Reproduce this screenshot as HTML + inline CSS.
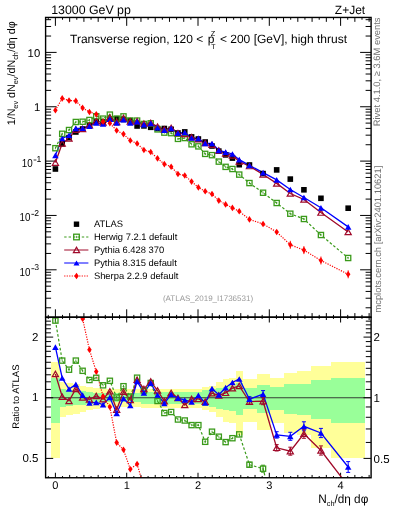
<!DOCTYPE html>
<html><head><meta charset="utf-8"><style>html,body{margin:0;padding:0;background:#fff;width:393px;height:512px;overflow:hidden}svg{display:block;will-change:transform}</style></head>
<body><svg width="393" height="512" viewBox="0 0 393 512" text-rendering="geometricPrecision"><defs><clipPath id="cr"><rect x="45.6" y="317.2" width="325.5" height="160.55"/></clipPath><clipPath id="cm"><rect x="45.6" y="17.45" width="325.5" height="299.75"/></clipPath></defs>
<g clip-path="url(#cr)" shape-rendering="crispEdges">
<rect x="51.10" y="362.27" width="8.50" height="96.13" fill="#ffff99"/>
<rect x="59.60" y="381.80" width="6.31" height="35.48" fill="#ffff99"/>
<rect x="65.91" y="383.27" width="6.81" height="31.85" fill="#ffff99"/>
<rect x="72.72" y="384.01" width="6.81" height="30.04" fill="#ffff99"/>
<rect x="79.53" y="385.52" width="6.81" height="26.45" fill="#ffff99"/>
<rect x="86.34" y="386.67" width="6.81" height="23.77" fill="#ffff99"/>
<rect x="93.15" y="387.83" width="6.81" height="21.10" fill="#ffff99"/>
<rect x="99.96" y="389.41" width="6.81" height="17.56" fill="#ffff99"/>
<rect x="106.76" y="389.41" width="6.81" height="17.56" fill="#ffff99"/>
<rect x="113.57" y="389.41" width="6.81" height="17.56" fill="#ffff99"/>
<rect x="120.38" y="389.41" width="6.81" height="17.56" fill="#ffff99"/>
<rect x="127.19" y="389.41" width="6.81" height="17.56" fill="#ffff99"/>
<rect x="134.00" y="389.41" width="6.81" height="17.56" fill="#ffff99"/>
<rect x="140.81" y="388.62" width="6.81" height="19.33" fill="#ffff99"/>
<rect x="147.62" y="388.62" width="6.81" height="19.33" fill="#ffff99"/>
<rect x="154.43" y="388.62" width="6.81" height="19.33" fill="#ffff99"/>
<rect x="161.23" y="388.62" width="6.81" height="19.33" fill="#ffff99"/>
<rect x="168.04" y="388.62" width="6.81" height="19.33" fill="#ffff99"/>
<rect x="174.85" y="388.62" width="6.81" height="19.33" fill="#ffff99"/>
<rect x="181.66" y="388.62" width="6.81" height="19.33" fill="#ffff99"/>
<rect x="188.47" y="388.62" width="6.81" height="19.33" fill="#ffff99"/>
<rect x="195.28" y="388.62" width="6.81" height="19.33" fill="#ffff99"/>
<rect x="202.09" y="387.06" width="6.81" height="22.88" fill="#ffff99"/>
<rect x="208.89" y="385.52" width="6.81" height="26.45" fill="#ffff99"/>
<rect x="215.70" y="381.80" width="6.81" height="35.48" fill="#ffff99"/>
<rect x="222.51" y="378.58" width="6.81" height="43.76" fill="#ffff99"/>
<rect x="229.32" y="378.23" width="6.81" height="44.70" fill="#ffff99"/>
<rect x="236.13" y="371.49" width="6.81" height="63.95" fill="#ffff99"/>
<rect x="242.94" y="378.93" width="13.62" height="42.84" fill="#ffff99"/>
<rect x="256.55" y="374.12" width="13.62" height="56.10" fill="#ffff99"/>
<rect x="270.17" y="378.23" width="13.62" height="44.70" fill="#ffff99"/>
<rect x="283.79" y="372.80" width="13.62" height="59.99" fill="#ffff99"/>
<rect x="297.41" y="371.49" width="13.62" height="63.95" fill="#ffff99"/>
<rect x="311.02" y="365.84" width="20.43" height="82.64" fill="#ffff99"/>
<rect x="331.45" y="362.27" width="34.04" height="96.13" fill="#ffff99"/>
<rect x="51.10" y="378.23" width="8.50" height="44.70" fill="#99ff99"/>
<rect x="59.60" y="389.41" width="6.31" height="17.56" fill="#99ff99"/>
<rect x="65.91" y="389.89" width="6.81" height="16.50" fill="#99ff99"/>
<rect x="72.72" y="390.77" width="6.81" height="14.56" fill="#99ff99"/>
<rect x="79.53" y="391.10" width="6.81" height="13.85" fill="#99ff99"/>
<rect x="86.34" y="391.58" width="6.81" height="12.80" fill="#99ff99"/>
<rect x="93.15" y="392.65" width="6.81" height="10.51" fill="#99ff99"/>
<rect x="99.96" y="393.48" width="6.81" height="8.76" fill="#99ff99"/>
<rect x="106.76" y="393.48" width="6.81" height="8.76" fill="#99ff99"/>
<rect x="113.57" y="393.48" width="6.81" height="8.76" fill="#99ff99"/>
<rect x="120.38" y="393.48" width="6.81" height="8.76" fill="#99ff99"/>
<rect x="127.19" y="393.48" width="6.81" height="8.76" fill="#99ff99"/>
<rect x="134.00" y="393.48" width="6.81" height="8.76" fill="#99ff99"/>
<rect x="140.81" y="392.32" width="6.81" height="11.22" fill="#99ff99"/>
<rect x="147.62" y="392.32" width="6.81" height="11.22" fill="#99ff99"/>
<rect x="154.43" y="392.32" width="6.81" height="11.22" fill="#99ff99"/>
<rect x="161.23" y="392.32" width="6.81" height="11.22" fill="#99ff99"/>
<rect x="168.04" y="392.32" width="6.81" height="11.22" fill="#99ff99"/>
<rect x="174.85" y="392.32" width="6.81" height="11.22" fill="#99ff99"/>
<rect x="181.66" y="392.32" width="6.81" height="11.22" fill="#99ff99"/>
<rect x="188.47" y="392.32" width="6.81" height="11.22" fill="#99ff99"/>
<rect x="195.28" y="392.32" width="6.81" height="11.22" fill="#99ff99"/>
<rect x="202.09" y="390.21" width="6.81" height="15.79" fill="#99ff99"/>
<rect x="208.89" y="389.41" width="6.81" height="17.56" fill="#99ff99"/>
<rect x="215.70" y="387.83" width="6.81" height="21.10" fill="#99ff99"/>
<rect x="222.51" y="386.67" width="6.81" height="23.77" fill="#99ff99"/>
<rect x="229.32" y="386.29" width="6.81" height="24.66" fill="#99ff99"/>
<rect x="236.13" y="383.27" width="6.81" height="31.85" fill="#99ff99"/>
<rect x="242.94" y="387.83" width="13.62" height="21.10" fill="#99ff99"/>
<rect x="256.55" y="384.76" width="13.62" height="28.24" fill="#99ff99"/>
<rect x="270.17" y="386.67" width="13.62" height="23.77" fill="#99ff99"/>
<rect x="283.79" y="384.39" width="13.62" height="29.14" fill="#99ff99"/>
<rect x="297.41" y="383.64" width="13.62" height="30.94" fill="#99ff99"/>
<rect x="311.02" y="380.35" width="20.43" height="39.14" fill="#99ff99"/>
<rect x="331.45" y="378.23" width="34.04" height="44.70" fill="#99ff99"/>
</g>
<line x1="45.6" y1="397.75" x2="371.1" y2="397.75" stroke="#2a2a2a" stroke-width="0.9"/>
<path d="M48.27 17.45v2.30M55.40 17.45v8.40M62.53 17.45v2.30M69.66 17.45v4.40M76.79 17.45v2.30M83.92 17.45v4.40M91.05 17.45v2.30M98.18 17.45v4.40M105.31 17.45v2.30M112.44 17.45v4.40M119.57 17.45v2.30M126.70 17.45v8.40M133.83 17.45v2.30M140.96 17.45v4.40M148.09 17.45v2.30M155.22 17.45v4.40M162.35 17.45v2.30M169.48 17.45v4.40M176.61 17.45v2.30M183.74 17.45v4.40M190.87 17.45v2.30M198.00 17.45v8.40M205.13 17.45v2.30M212.26 17.45v4.40M219.39 17.45v2.30M226.52 17.45v4.40M233.65 17.45v2.30M240.78 17.45v4.40M247.91 17.45v2.30M255.04 17.45v4.40M262.17 17.45v2.30M269.30 17.45v8.40M276.43 17.45v2.30M283.56 17.45v4.40M290.69 17.45v2.30M297.82 17.45v4.40M304.95 17.45v2.30M312.08 17.45v4.40M319.21 17.45v2.30M326.34 17.45v4.40M333.47 17.45v2.30M340.60 17.45v8.40M347.73 17.45v2.30M354.86 17.45v4.40M361.99 17.45v2.30M369.12 17.45v4.40M48.27 317.20v-2.30M55.40 317.20v-7.90M62.53 317.20v-2.30M69.66 317.20v-4.10M76.79 317.20v-2.30M83.92 317.20v-4.10M91.05 317.20v-2.30M98.18 317.20v-4.10M105.31 317.20v-2.30M112.44 317.20v-4.10M119.57 317.20v-2.30M126.70 317.20v-7.90M133.83 317.20v-2.30M140.96 317.20v-4.10M148.09 317.20v-2.30M155.22 317.20v-4.10M162.35 317.20v-2.30M169.48 317.20v-4.10M176.61 317.20v-2.30M183.74 317.20v-4.10M190.87 317.20v-2.30M198.00 317.20v-7.90M205.13 317.20v-2.30M212.26 317.20v-4.10M219.39 317.20v-2.30M226.52 317.20v-4.10M233.65 317.20v-2.30M240.78 317.20v-4.10M247.91 317.20v-2.30M255.04 317.20v-4.10M262.17 317.20v-2.30M269.30 317.20v-7.90M276.43 317.20v-2.30M283.56 317.20v-4.10M290.69 317.20v-2.30M297.82 317.20v-4.10M304.95 317.20v-2.30M312.08 317.20v-4.10M319.21 317.20v-2.30M326.34 317.20v-4.10M333.47 317.20v-2.30M340.60 317.20v-7.90M347.73 317.20v-2.30M354.86 317.20v-4.10M361.99 317.20v-2.30M369.12 317.20v-4.10M48.27 477.75v-1.70M55.40 477.75v-5.00M62.53 477.75v-1.70M69.66 477.75v-2.80M76.79 477.75v-1.70M83.92 477.75v-2.80M91.05 477.75v-1.70M98.18 477.75v-2.80M105.31 477.75v-1.70M112.44 477.75v-2.80M119.57 477.75v-1.70M126.70 477.75v-5.00M133.83 477.75v-1.70M140.96 477.75v-2.80M148.09 477.75v-1.70M155.22 477.75v-2.80M162.35 477.75v-1.70M169.48 477.75v-2.80M176.61 477.75v-1.70M183.74 477.75v-2.80M190.87 477.75v-1.70M198.00 477.75v-5.00M205.13 477.75v-1.70M212.26 477.75v-2.80M219.39 477.75v-1.70M226.52 477.75v-2.80M233.65 477.75v-1.70M240.78 477.75v-2.80M247.91 477.75v-1.70M255.04 477.75v-2.80M262.17 477.75v-1.70M269.30 477.75v-5.00M276.43 477.75v-1.70M283.56 477.75v-2.80M290.69 477.75v-1.70M297.82 477.75v-2.80M304.95 477.75v-1.70M312.08 477.75v-2.80M319.21 477.75v-1.70M326.34 477.75v-2.80M333.47 477.75v-1.70M340.60 477.75v-5.00M347.73 477.75v-1.70M354.86 477.75v-2.80M361.99 477.75v-1.70M369.12 477.75v-2.80M48.27 317.20v1.70M55.40 317.20v5.30M62.53 317.20v1.70M69.66 317.20v2.80M76.79 317.20v1.70M83.92 317.20v2.80M91.05 317.20v1.70M98.18 317.20v2.80M105.31 317.20v1.70M112.44 317.20v2.80M119.57 317.20v1.70M126.70 317.20v5.30M133.83 317.20v1.70M140.96 317.20v2.80M148.09 317.20v1.70M155.22 317.20v2.80M162.35 317.20v1.70M169.48 317.20v2.80M176.61 317.20v1.70M183.74 317.20v2.80M190.87 317.20v1.70M198.00 317.20v5.30M205.13 317.20v1.70M212.26 317.20v2.80M219.39 317.20v1.70M226.52 317.20v2.80M233.65 317.20v1.70M240.78 317.20v2.80M247.91 317.20v1.70M255.04 317.20v2.80M262.17 317.20v1.70M269.30 317.20v5.30M276.43 317.20v1.70M283.56 317.20v2.80M290.69 317.20v1.70M297.82 317.20v2.80M304.95 317.20v1.70M312.08 317.20v2.80M319.21 317.20v1.70M326.34 317.20v2.80M333.47 317.20v1.70M340.60 317.20v5.30M347.73 317.20v1.70M354.86 317.20v2.80M361.99 317.20v1.70M369.12 317.20v2.80M45.60 307.79h5.5M371.10 307.79h-5.5M45.60 298.22h5.5M371.10 298.22h-5.5M45.60 291.43h5.5M371.10 291.43h-5.5M45.60 286.16h5.5M371.10 286.16h-5.5M45.60 281.86h5.5M371.10 281.86h-5.5M45.60 278.22h5.5M371.10 278.22h-5.5M45.60 275.07h5.5M371.10 275.07h-5.5M45.60 272.29h5.5M371.10 272.29h-5.5M45.60 269.80h11M371.10 269.80h-11M45.60 253.44h5.5M371.10 253.44h-5.5M45.60 243.87h5.5M371.10 243.87h-5.5M45.60 237.08h5.5M371.10 237.08h-5.5M45.60 231.81h5.5M371.10 231.81h-5.5M45.60 227.51h5.5M371.10 227.51h-5.5M45.60 223.87h5.5M371.10 223.87h-5.5M45.60 220.72h5.5M371.10 220.72h-5.5M45.60 217.94h5.5M371.10 217.94h-5.5M45.60 215.45h11M371.10 215.45h-11M45.60 199.09h5.5M371.10 199.09h-5.5M45.60 189.52h5.5M371.10 189.52h-5.5M45.60 182.73h5.5M371.10 182.73h-5.5M45.60 177.46h5.5M371.10 177.46h-5.5M45.60 173.16h5.5M371.10 173.16h-5.5M45.60 169.52h5.5M371.10 169.52h-5.5M45.60 166.37h5.5M371.10 166.37h-5.5M45.60 163.59h5.5M371.10 163.59h-5.5M45.60 161.10h11M371.10 161.10h-11M45.60 144.74h5.5M371.10 144.74h-5.5M45.60 135.17h5.5M371.10 135.17h-5.5M45.60 128.38h5.5M371.10 128.38h-5.5M45.60 123.11h5.5M371.10 123.11h-5.5M45.60 118.81h5.5M371.10 118.81h-5.5M45.60 115.17h5.5M371.10 115.17h-5.5M45.60 112.02h5.5M371.10 112.02h-5.5M45.60 109.24h5.5M371.10 109.24h-5.5M45.60 106.75h11M371.10 106.75h-11M45.60 90.39h5.5M371.10 90.39h-5.5M45.60 80.82h5.5M371.10 80.82h-5.5M45.60 74.03h5.5M371.10 74.03h-5.5M45.60 68.76h5.5M371.10 68.76h-5.5M45.60 64.46h5.5M371.10 64.46h-5.5M45.60 60.82h5.5M371.10 60.82h-5.5M45.60 57.67h5.5M371.10 57.67h-5.5M45.60 54.89h5.5M371.10 54.89h-5.5M45.60 52.40h11M371.10 52.40h-11M45.60 36.04h5.5M371.10 36.04h-5.5M45.60 26.47h5.5M371.10 26.47h-5.5M45.60 19.68h5.5M371.10 19.68h-5.5M45.60 458.40h7.6M371.10 458.40h-7.6M45.60 442.45h5.3M371.10 442.45h-5.3M45.60 428.96h5.3M371.10 428.96h-5.3M45.60 417.27h5.3M371.10 417.27h-5.3M45.60 406.97h5.3M371.10 406.97h-5.3M45.60 397.75h7.6M371.10 397.75h-7.6M45.60 389.41h5.3M371.10 389.41h-5.3M45.60 381.80h5.3M371.10 381.80h-5.3M45.60 374.79h5.3M371.10 374.79h-5.3M45.60 368.31h5.3M371.10 368.31h-5.3M45.60 362.27h5.3M371.10 362.27h-5.3M45.60 356.62h5.3M371.10 356.62h-5.3M45.60 351.32h5.3M371.10 351.32h-5.3M45.60 346.32h5.3M371.10 346.32h-5.3M45.60 341.59h5.3M371.10 341.59h-5.3M45.60 337.10h7.6M371.10 337.10h-7.6M45.60 332.83h5.3M371.10 332.83h-5.3M45.60 328.76h5.3M371.10 328.76h-5.3M45.60 324.87h5.3M371.10 324.87h-5.3M45.60 321.15h5.3M371.10 321.15h-5.3M45.60 317.58h5.3M371.10 317.58h-5.3" stroke="#000" stroke-width="1" fill="none"/>
<g clip-path="url(#cm)">
<polyline points="55.40,148.19 62.21,133.78 69.02,130.03 75.83,121.98 82.63,121.73 89.44,120.01 96.25,116.22 103.06,118.64 109.87,114.63 116.68,118.63 123.49,116.38 130.29,120.49 137.10,120.59 143.91,123.97 150.72,123.32 157.53,129.38 164.34,132.61 171.15,133.14 177.96,138.87 184.76,138.04 191.57,144.28 198.38,146.38 205.19,153.88 212.00,155.16 218.81,161.61 225.62,166.86 232.42,169.01 239.23,174.59 249.45,183.06 263.06,192.74 276.68,203.00 290.30,213.70 303.92,219.00 320.94,235.00 348.17,258.00" fill="none" stroke="#3a9a1a" stroke-width="1.2" stroke-dasharray="2.6,2"/>
<polyline points="55.40,162.59 62.21,143.49 69.02,138.45 75.83,129.64 82.63,128.91 89.44,125.25 96.25,121.10 103.06,122.39 109.87,117.46 116.68,121.90 123.49,117.89 130.29,121.41 137.10,121.16 143.91,123.54 150.72,122.89 157.53,126.54 164.34,129.43 171.15,127.96 177.96,133.04 184.76,133.86 191.57,137.21 198.38,139.31 205.19,143.04 212.00,144.77 218.81,150.47 225.62,153.56 232.42,155.52 239.23,161.53 249.45,166.04 263.06,174.53 276.68,183.40 290.30,193.52 303.92,199.52 320.94,212.53 348.17,232.00" fill="none" stroke="#a00a2a" stroke-width="1.3"/>
<polyline points="55.40,155.34 62.21,138.47 69.02,135.24 75.83,128.40 82.63,128.29 89.44,126.22 96.25,122.85 103.06,123.85 109.87,119.11 116.68,122.92 123.49,119.70 130.29,122.89 137.10,121.59 143.91,124.56 150.72,123.37 157.53,127.76 164.34,130.05 171.15,128.40 177.96,133.12 184.76,132.51 191.57,138.05 198.38,138.37 205.19,143.42 212.00,143.50 218.81,150.30 225.62,152.19 232.42,153.99 239.23,159.64 249.45,165.39 263.06,172.62 276.68,179.92 290.30,189.50 303.92,197.50 320.94,207.81 348.17,226.88" fill="none" stroke="#0000ff" stroke-width="1.3"/>
<polyline points="55.40,110.20 62.21,98.40 69.02,100.50 75.83,100.90 82.63,107.90 89.44,112.00 96.25,114.20 103.06,121.60 109.87,123.30 116.68,130.50 123.49,134.10 130.29,140.50 137.10,143.50 143.91,150.00 150.72,152.00 157.53,158.40 164.34,164.10 171.15,166.70 177.96,174.00 184.76,175.50 191.57,181.60 198.38,187.40 205.19,191.30 212.00,194.00 218.81,200.60 225.62,204.40 232.42,207.90 239.23,211.30 249.45,219.40 263.06,224.00 276.68,232.00 290.30,244.80 303.92,250.10 320.94,260.50 348.17,274.30" fill="none" stroke="#ff0000" stroke-width="1.2" stroke-dasharray="1.2,1.3"/>
<rect x="52.60" y="166.20" width="5.6" height="5.6" fill="#000"/>
<rect x="59.41" y="141.00" width="5.6" height="5.6" fill="#000"/>
<rect x="66.22" y="134.80" width="5.6" height="5.6" fill="#000"/>
<rect x="73.03" y="129.20" width="5.6" height="5.6" fill="#000"/>
<rect x="79.83" y="126.20" width="5.6" height="5.6" fill="#000"/>
<rect x="86.64" y="122.00" width="5.6" height="5.6" fill="#000"/>
<rect x="93.45" y="118.80" width="5.6" height="5.6" fill="#000"/>
<rect x="100.26" y="119.20" width="5.6" height="5.6" fill="#000"/>
<rect x="107.07" y="116.40" width="5.6" height="5.6" fill="#000"/>
<rect x="113.88" y="115.90" width="5.6" height="5.6" fill="#000"/>
<rect x="120.69" y="116.70" width="5.6" height="5.6" fill="#000"/>
<rect x="127.49" y="118.00" width="5.6" height="5.6" fill="#000"/>
<rect x="134.30" y="123.20" width="5.6" height="5.6" fill="#000"/>
<rect x="141.11" y="123.10" width="5.6" height="5.6" fill="#000"/>
<rect x="147.92" y="124.50" width="5.6" height="5.6" fill="#000"/>
<rect x="154.73" y="125.70" width="5.6" height="5.6" fill="#000"/>
<rect x="161.54" y="125.70" width="5.6" height="5.6" fill="#000"/>
<rect x="168.35" y="126.50" width="5.6" height="5.6" fill="#000"/>
<rect x="175.16" y="130.20" width="5.6" height="5.6" fill="#000"/>
<rect x="181.96" y="129.10" width="5.6" height="5.6" fill="#000"/>
<rect x="188.77" y="134.10" width="5.6" height="5.6" fill="#000"/>
<rect x="195.58" y="136.20" width="5.6" height="5.6" fill="#000"/>
<rect x="202.39" y="139.20" width="5.6" height="5.6" fill="#000"/>
<rect x="209.20" y="143.20" width="5.6" height="5.6" fill="#000"/>
<rect x="216.01" y="148.30" width="5.6" height="5.6" fill="#000"/>
<rect x="222.82" y="152.10" width="5.6" height="5.6" fill="#000"/>
<rect x="229.62" y="155.30" width="5.6" height="5.6" fill="#000"/>
<rect x="236.43" y="161.90" width="5.6" height="5.6" fill="#000"/>
<rect x="246.65" y="162.20" width="5.6" height="5.6" fill="#000"/>
<rect x="260.26" y="170.80" width="5.6" height="5.6" fill="#000"/>
<rect x="273.88" y="167.10" width="5.6" height="5.6" fill="#000"/>
<rect x="287.50" y="176.30" width="5.6" height="5.6" fill="#000"/>
<rect x="301.12" y="187.00" width="5.6" height="5.6" fill="#000"/>
<rect x="318.14" y="195.50" width="5.6" height="5.6" fill="#000"/>
<rect x="345.37" y="205.40" width="5.6" height="5.6" fill="#000"/>
<rect x="52.80" y="145.59" width="5.2" height="5.2" fill="none" stroke="#3a9a1a" stroke-width="1.3"/><path d="M55.40 147.09V149.29" stroke="#3a9a1a" stroke-width="0.8"/>
<rect x="59.61" y="131.18" width="5.2" height="5.2" fill="none" stroke="#3a9a1a" stroke-width="1.3"/><path d="M62.21 132.68V134.88" stroke="#3a9a1a" stroke-width="0.8"/>
<rect x="66.42" y="127.43" width="5.2" height="5.2" fill="none" stroke="#3a9a1a" stroke-width="1.3"/><path d="M69.02 128.93V131.13" stroke="#3a9a1a" stroke-width="0.8"/>
<rect x="73.23" y="119.38" width="5.2" height="5.2" fill="none" stroke="#3a9a1a" stroke-width="1.3"/><path d="M75.83 120.88V123.08" stroke="#3a9a1a" stroke-width="0.8"/>
<rect x="80.03" y="119.13" width="5.2" height="5.2" fill="none" stroke="#3a9a1a" stroke-width="1.3"/><path d="M82.63 120.63V122.83" stroke="#3a9a1a" stroke-width="0.8"/>
<rect x="86.84" y="117.41" width="5.2" height="5.2" fill="none" stroke="#3a9a1a" stroke-width="1.3"/><path d="M89.44 118.91V121.11" stroke="#3a9a1a" stroke-width="0.8"/>
<rect x="93.65" y="113.62" width="5.2" height="5.2" fill="none" stroke="#3a9a1a" stroke-width="1.3"/><path d="M96.25 115.12V117.32" stroke="#3a9a1a" stroke-width="0.8"/>
<rect x="100.46" y="116.04" width="5.2" height="5.2" fill="none" stroke="#3a9a1a" stroke-width="1.3"/><path d="M103.06 117.54V119.74" stroke="#3a9a1a" stroke-width="0.8"/>
<rect x="107.27" y="112.03" width="5.2" height="5.2" fill="none" stroke="#3a9a1a" stroke-width="1.3"/><path d="M109.87 113.53V115.73" stroke="#3a9a1a" stroke-width="0.8"/>
<rect x="114.08" y="116.03" width="5.2" height="5.2" fill="none" stroke="#3a9a1a" stroke-width="1.3"/><path d="M116.68 117.53V119.73" stroke="#3a9a1a" stroke-width="0.8"/>
<rect x="120.89" y="113.78" width="5.2" height="5.2" fill="none" stroke="#3a9a1a" stroke-width="1.3"/><path d="M123.49 115.28V117.48" stroke="#3a9a1a" stroke-width="0.8"/>
<rect x="127.69" y="117.89" width="5.2" height="5.2" fill="none" stroke="#3a9a1a" stroke-width="1.3"/><path d="M130.29 119.39V121.59" stroke="#3a9a1a" stroke-width="0.8"/>
<rect x="134.50" y="117.99" width="5.2" height="5.2" fill="none" stroke="#3a9a1a" stroke-width="1.3"/><path d="M137.10 119.49V121.69" stroke="#3a9a1a" stroke-width="0.8"/>
<rect x="141.31" y="121.37" width="5.2" height="5.2" fill="none" stroke="#3a9a1a" stroke-width="1.3"/><path d="M143.91 122.87V125.07" stroke="#3a9a1a" stroke-width="0.8"/>
<rect x="148.12" y="120.72" width="5.2" height="5.2" fill="none" stroke="#3a9a1a" stroke-width="1.3"/><path d="M150.72 122.22V124.42" stroke="#3a9a1a" stroke-width="0.8"/>
<rect x="154.93" y="126.78" width="5.2" height="5.2" fill="none" stroke="#3a9a1a" stroke-width="1.3"/><path d="M157.53 128.28V130.48" stroke="#3a9a1a" stroke-width="0.8"/>
<rect x="161.74" y="130.01" width="5.2" height="5.2" fill="none" stroke="#3a9a1a" stroke-width="1.3"/><path d="M164.34 131.51V133.71" stroke="#3a9a1a" stroke-width="0.8"/>
<rect x="168.55" y="130.54" width="5.2" height="5.2" fill="none" stroke="#3a9a1a" stroke-width="1.3"/><path d="M171.15 132.04V134.24" stroke="#3a9a1a" stroke-width="0.8"/>
<rect x="175.36" y="136.27" width="5.2" height="5.2" fill="none" stroke="#3a9a1a" stroke-width="1.3"/><path d="M177.96 137.77V139.97" stroke="#3a9a1a" stroke-width="0.8"/>
<rect x="182.16" y="135.44" width="5.2" height="5.2" fill="none" stroke="#3a9a1a" stroke-width="1.3"/><path d="M184.76 136.94V139.14" stroke="#3a9a1a" stroke-width="0.8"/>
<rect x="188.97" y="141.68" width="5.2" height="5.2" fill="none" stroke="#3a9a1a" stroke-width="1.3"/><path d="M191.57 143.18V145.38" stroke="#3a9a1a" stroke-width="0.8"/>
<rect x="195.78" y="143.78" width="5.2" height="5.2" fill="none" stroke="#3a9a1a" stroke-width="1.3"/><path d="M198.38 145.28V147.48" stroke="#3a9a1a" stroke-width="0.8"/>
<rect x="202.59" y="151.28" width="5.2" height="5.2" fill="none" stroke="#3a9a1a" stroke-width="1.3"/><path d="M205.19 152.78V154.98" stroke="#3a9a1a" stroke-width="0.8"/>
<rect x="209.40" y="152.56" width="5.2" height="5.2" fill="none" stroke="#3a9a1a" stroke-width="1.3"/><path d="M212.00 154.06V156.26" stroke="#3a9a1a" stroke-width="0.8"/>
<rect x="216.21" y="159.01" width="5.2" height="5.2" fill="none" stroke="#3a9a1a" stroke-width="1.3"/><path d="M218.81 160.51V162.71" stroke="#3a9a1a" stroke-width="0.8"/>
<rect x="223.02" y="164.26" width="5.2" height="5.2" fill="none" stroke="#3a9a1a" stroke-width="1.3"/><path d="M225.62 165.76V167.96" stroke="#3a9a1a" stroke-width="0.8"/>
<rect x="229.82" y="166.41" width="5.2" height="5.2" fill="none" stroke="#3a9a1a" stroke-width="1.3"/><path d="M232.42 167.91V170.11" stroke="#3a9a1a" stroke-width="0.8"/>
<rect x="236.63" y="171.99" width="5.2" height="5.2" fill="none" stroke="#3a9a1a" stroke-width="1.3"/><path d="M239.23 173.49V175.69" stroke="#3a9a1a" stroke-width="0.8"/>
<rect x="246.85" y="180.46" width="5.2" height="5.2" fill="none" stroke="#3a9a1a" stroke-width="1.3"/><path d="M249.45 181.96V184.16" stroke="#3a9a1a" stroke-width="0.8"/>
<rect x="260.46" y="190.14" width="5.2" height="5.2" fill="none" stroke="#3a9a1a" stroke-width="1.3"/><path d="M263.06 191.64V193.84" stroke="#3a9a1a" stroke-width="0.8"/>
<rect x="274.08" y="200.40" width="5.2" height="5.2" fill="none" stroke="#3a9a1a" stroke-width="1.3"/><path d="M276.68 201.90V204.10" stroke="#3a9a1a" stroke-width="0.8"/>
<rect x="287.70" y="211.10" width="5.2" height="5.2" fill="none" stroke="#3a9a1a" stroke-width="1.3"/><path d="M290.30 212.60V214.80" stroke="#3a9a1a" stroke-width="0.8"/>
<rect x="301.32" y="216.40" width="5.2" height="5.2" fill="none" stroke="#3a9a1a" stroke-width="1.3"/><path d="M303.92 217.90V220.10" stroke="#3a9a1a" stroke-width="0.8"/>
<rect x="318.34" y="232.40" width="5.2" height="5.2" fill="none" stroke="#3a9a1a" stroke-width="1.3"/><path d="M320.94 233.90V236.10" stroke="#3a9a1a" stroke-width="0.8"/>
<rect x="345.57" y="255.40" width="5.2" height="5.2" fill="none" stroke="#3a9a1a" stroke-width="1.3"/><path d="M348.17 256.90V259.10" stroke="#3a9a1a" stroke-width="0.8"/>
<polygon points="52.30,165.29 58.50,165.29 55.40,159.90" fill="none" stroke="#a00a2a" stroke-width="1.2"/>
<polygon points="59.11,146.19 65.31,146.19 62.21,140.79" fill="none" stroke="#a00a2a" stroke-width="1.2"/>
<polygon points="65.92,141.15 72.12,141.15 69.02,135.75" fill="none" stroke="#a00a2a" stroke-width="1.2"/>
<polygon points="72.73,132.34 78.93,132.34 75.83,126.94" fill="none" stroke="#a00a2a" stroke-width="1.2"/>
<polygon points="79.53,131.60 85.73,131.60 82.63,126.21" fill="none" stroke="#a00a2a" stroke-width="1.2"/>
<polygon points="86.34,127.94 92.54,127.94 89.44,122.55" fill="none" stroke="#a00a2a" stroke-width="1.2"/>
<polygon points="93.15,123.80 99.35,123.80 96.25,118.40" fill="none" stroke="#a00a2a" stroke-width="1.2"/>
<polygon points="99.96,125.09 106.16,125.09 103.06,119.69" fill="none" stroke="#a00a2a" stroke-width="1.2"/>
<polygon points="106.77,120.16 112.97,120.16 109.87,114.76" fill="none" stroke="#a00a2a" stroke-width="1.2"/>
<polygon points="113.58,124.59 119.78,124.59 116.68,119.20" fill="none" stroke="#a00a2a" stroke-width="1.2"/>
<polygon points="120.39,120.59 126.59,120.59 123.49,115.20" fill="none" stroke="#a00a2a" stroke-width="1.2"/>
<polygon points="127.19,124.10 133.39,124.10 130.29,118.71" fill="none" stroke="#a00a2a" stroke-width="1.2"/>
<polygon points="134.00,123.85 140.20,123.85 137.10,118.46" fill="none" stroke="#a00a2a" stroke-width="1.2"/>
<polygon points="140.81,126.24 147.01,126.24 143.91,120.84" fill="none" stroke="#a00a2a" stroke-width="1.2"/>
<polygon points="147.62,125.59 153.82,125.59 150.72,120.19" fill="none" stroke="#a00a2a" stroke-width="1.2"/>
<polygon points="154.43,129.24 160.63,129.24 157.53,123.85" fill="none" stroke="#a00a2a" stroke-width="1.2"/>
<polygon points="161.24,132.13 167.44,132.13 164.34,126.73" fill="none" stroke="#a00a2a" stroke-width="1.2"/>
<polygon points="168.05,130.66 174.25,130.66 171.15,125.27" fill="none" stroke="#a00a2a" stroke-width="1.2"/>
<polygon points="174.86,135.74 181.06,135.74 177.96,130.34" fill="none" stroke="#a00a2a" stroke-width="1.2"/>
<polygon points="181.66,136.55 187.86,136.55 184.76,131.16" fill="none" stroke="#a00a2a" stroke-width="1.2"/>
<polygon points="188.47,139.91 194.67,139.91 191.57,134.51" fill="none" stroke="#a00a2a" stroke-width="1.2"/>
<polygon points="195.28,142.01 201.48,142.01 198.38,136.61" fill="none" stroke="#a00a2a" stroke-width="1.2"/>
<polygon points="202.09,145.74 208.29,145.74 205.19,140.34" fill="none" stroke="#a00a2a" stroke-width="1.2"/>
<polygon points="208.90,147.47 215.10,147.47 212.00,142.08" fill="none" stroke="#a00a2a" stroke-width="1.2"/>
<polygon points="215.71,153.16 221.91,153.16 218.81,147.77" fill="none" stroke="#a00a2a" stroke-width="1.2"/>
<polygon points="222.52,156.26 228.72,156.26 225.62,150.87" fill="none" stroke="#a00a2a" stroke-width="1.2"/>
<polygon points="229.32,158.22 235.52,158.22 232.42,152.83" fill="none" stroke="#a00a2a" stroke-width="1.2"/>
<polygon points="236.13,164.23 242.33,164.23 239.23,158.83" fill="none" stroke="#a00a2a" stroke-width="1.2"/>
<polygon points="246.35,168.74 252.55,168.74 249.45,163.34" fill="none" stroke="#a00a2a" stroke-width="1.2"/>
<polygon points="259.96,177.23 266.16,177.23 263.06,171.83" fill="none" stroke="#a00a2a" stroke-width="1.2"/>
<polygon points="273.58,186.10 279.78,186.10 276.68,180.70" fill="none" stroke="#a00a2a" stroke-width="1.2"/>
<polygon points="287.20,196.22 293.40,196.22 290.30,190.82" fill="none" stroke="#a00a2a" stroke-width="1.2"/>
<polygon points="300.82,202.22 307.02,202.22 303.92,196.83" fill="none" stroke="#a00a2a" stroke-width="1.2"/>
<polygon points="317.84,215.23 324.04,215.23 320.94,209.83" fill="none" stroke="#a00a2a" stroke-width="1.2"/>
<polygon points="345.07,234.70 351.27,234.70 348.17,229.30" fill="none" stroke="#a00a2a" stroke-width="1.2"/>
<polygon points="52.15,158.16 58.65,158.16 55.40,152.51" fill="#0000ff"/>
<polygon points="58.96,141.30 65.46,141.30 62.21,135.64" fill="#0000ff"/>
<polygon points="65.77,138.07 72.27,138.07 69.02,132.41" fill="#0000ff"/>
<polygon points="72.58,131.23 79.08,131.23 75.83,125.57" fill="#0000ff"/>
<polygon points="79.38,131.11 85.88,131.11 82.63,125.46" fill="#0000ff"/>
<polygon points="86.19,129.04 92.69,129.04 89.44,123.39" fill="#0000ff"/>
<polygon points="93.00,125.68 99.50,125.68 96.25,120.03" fill="#0000ff"/>
<polygon points="99.81,126.68 106.31,126.68 103.06,121.02" fill="#0000ff"/>
<polygon points="106.62,121.93 113.12,121.93 109.87,116.28" fill="#0000ff"/>
<polygon points="113.43,125.75 119.93,125.75 116.68,120.09" fill="#0000ff"/>
<polygon points="120.24,122.53 126.74,122.53 123.49,116.87" fill="#0000ff"/>
<polygon points="127.04,125.72 133.54,125.72 130.29,120.06" fill="#0000ff"/>
<polygon points="133.85,124.42 140.35,124.42 137.10,118.76" fill="#0000ff"/>
<polygon points="140.66,127.39 147.16,127.39 143.91,121.74" fill="#0000ff"/>
<polygon points="147.47,126.20 153.97,126.20 150.72,120.55" fill="#0000ff"/>
<polygon points="154.28,130.59 160.78,130.59 157.53,124.93" fill="#0000ff"/>
<polygon points="161.09,132.88 167.59,132.88 164.34,127.22" fill="#0000ff"/>
<polygon points="167.90,131.22 174.40,131.22 171.15,125.57" fill="#0000ff"/>
<polygon points="174.71,135.95 181.21,135.95 177.96,130.29" fill="#0000ff"/>
<polygon points="181.51,135.33 188.01,135.33 184.76,129.68" fill="#0000ff"/>
<polygon points="188.32,140.87 194.82,140.87 191.57,135.22" fill="#0000ff"/>
<polygon points="195.13,141.19 201.63,141.19 198.38,135.54" fill="#0000ff"/>
<polygon points="201.94,146.24 208.44,146.24 205.19,140.59" fill="#0000ff"/>
<polygon points="208.75,146.33 215.25,146.33 212.00,140.68" fill="#0000ff"/>
<polygon points="215.56,153.13 222.06,153.13 218.81,147.48" fill="#0000ff"/>
<polygon points="222.37,155.02 228.87,155.02 225.62,149.36" fill="#0000ff"/>
<polygon points="229.17,156.81 235.67,156.81 232.42,151.16" fill="#0000ff"/>
<polygon points="235.98,162.47 242.48,162.47 239.23,156.81" fill="#0000ff"/>
<polygon points="246.20,168.22 252.70,168.22 249.45,162.56" fill="#0000ff"/>
<polygon points="259.81,175.44 266.31,175.44 263.06,169.79" fill="#0000ff"/>
<polygon points="273.43,182.75 279.93,182.75 276.68,177.09" fill="#0000ff"/>
<polygon points="287.05,192.33 293.55,192.33 290.30,186.67" fill="#0000ff"/>
<polygon points="300.67,200.33 307.17,200.33 303.92,194.67" fill="#0000ff"/>
<polygon points="317.69,210.64 324.19,210.64 320.94,204.98" fill="#0000ff"/>
<polygon points="344.92,229.71 351.42,229.71 348.17,224.05" fill="#0000ff"/>
<path d="M290.30 240.80V248.80" stroke="#ff0000" stroke-width="0.9" fill="none"/>
<path d="M303.92 246.10V254.10" stroke="#ff0000" stroke-width="0.9" fill="none"/>
<path d="M320.94 256.50V264.50" stroke="#ff0000" stroke-width="0.9" fill="none"/>
<path d="M348.17 270.30V278.30" stroke="#ff0000" stroke-width="0.9" fill="none"/>
<polygon points="55.40,106.90 57.65,110.20 55.40,113.50 53.15,110.20" fill="#ff0000"/>
<polygon points="62.21,95.10 64.46,98.40 62.21,101.70 59.96,98.40" fill="#ff0000"/>
<polygon points="69.02,97.20 71.27,100.50 69.02,103.80 66.77,100.50" fill="#ff0000"/>
<polygon points="75.83,97.60 78.08,100.90 75.83,104.20 73.58,100.90" fill="#ff0000"/>
<polygon points="82.63,104.60 84.88,107.90 82.63,111.20 80.38,107.90" fill="#ff0000"/>
<polygon points="89.44,108.70 91.69,112.00 89.44,115.30 87.19,112.00" fill="#ff0000"/>
<polygon points="96.25,110.90 98.50,114.20 96.25,117.50 94.00,114.20" fill="#ff0000"/>
<polygon points="103.06,118.30 105.31,121.60 103.06,124.90 100.81,121.60" fill="#ff0000"/>
<polygon points="109.87,120.00 112.12,123.30 109.87,126.60 107.62,123.30" fill="#ff0000"/>
<polygon points="116.68,127.20 118.93,130.50 116.68,133.80 114.43,130.50" fill="#ff0000"/>
<polygon points="123.49,130.80 125.74,134.10 123.49,137.40 121.24,134.10" fill="#ff0000"/>
<polygon points="130.29,137.20 132.54,140.50 130.29,143.80 128.04,140.50" fill="#ff0000"/>
<polygon points="137.10,140.20 139.35,143.50 137.10,146.80 134.85,143.50" fill="#ff0000"/>
<polygon points="143.91,146.70 146.16,150.00 143.91,153.30 141.66,150.00" fill="#ff0000"/>
<polygon points="150.72,148.70 152.97,152.00 150.72,155.30 148.47,152.00" fill="#ff0000"/>
<polygon points="157.53,155.10 159.78,158.40 157.53,161.70 155.28,158.40" fill="#ff0000"/>
<polygon points="164.34,160.80 166.59,164.10 164.34,167.40 162.09,164.10" fill="#ff0000"/>
<polygon points="171.15,163.40 173.40,166.70 171.15,170.00 168.90,166.70" fill="#ff0000"/>
<polygon points="177.96,170.70 180.21,174.00 177.96,177.30 175.71,174.00" fill="#ff0000"/>
<polygon points="184.76,172.20 187.01,175.50 184.76,178.80 182.51,175.50" fill="#ff0000"/>
<polygon points="191.57,178.30 193.82,181.60 191.57,184.90 189.32,181.60" fill="#ff0000"/>
<polygon points="198.38,184.10 200.63,187.40 198.38,190.70 196.13,187.40" fill="#ff0000"/>
<polygon points="205.19,188.00 207.44,191.30 205.19,194.60 202.94,191.30" fill="#ff0000"/>
<polygon points="212.00,190.70 214.25,194.00 212.00,197.30 209.75,194.00" fill="#ff0000"/>
<polygon points="218.81,197.30 221.06,200.60 218.81,203.90 216.56,200.60" fill="#ff0000"/>
<polygon points="225.62,201.10 227.87,204.40 225.62,207.70 223.37,204.40" fill="#ff0000"/>
<polygon points="232.42,204.60 234.67,207.90 232.42,211.20 230.17,207.90" fill="#ff0000"/>
<polygon points="239.23,208.00 241.48,211.30 239.23,214.60 236.98,211.30" fill="#ff0000"/>
<polygon points="249.45,216.10 251.70,219.40 249.45,222.70 247.20,219.40" fill="#ff0000"/>
<polygon points="263.06,220.70 265.31,224.00 263.06,227.30 260.81,224.00" fill="#ff0000"/>
<polygon points="276.68,228.70 278.93,232.00 276.68,235.30 274.43,232.00" fill="#ff0000"/>
<polygon points="290.30,241.50 292.55,244.80 290.30,248.10 288.05,244.80" fill="#ff0000"/>
<polygon points="303.92,246.80 306.17,250.10 303.92,253.40 301.67,250.10" fill="#ff0000"/>
<polygon points="320.94,257.20 323.19,260.50 320.94,263.80 318.69,260.50" fill="#ff0000"/>
<polygon points="348.17,271.00 350.42,274.30 348.17,277.60 345.92,274.30" fill="#ff0000"/>
</g>
<g clip-path="url(#cr)">
<polyline points="55.40,320.60 62.21,360.60 69.02,369.70 75.83,360.60 82.63,370.80 89.44,380.00 96.25,377.80 103.06,385.30 109.87,380.80 116.68,397.50 123.49,386.20 130.29,396.60 137.10,377.70 143.91,390.60 150.72,383.00 157.53,401.00 164.34,413.00 171.15,412.00 177.96,419.50 184.76,420.50 191.57,425.10 198.38,425.10 205.19,441.80 212.00,431.70 218.81,436.70 225.62,442.10 232.42,438.20 239.23,434.40 249.45,464.70 263.06,468.70 276.68,520.45 290.30,526.01 303.92,505.99 320.94,533.80 348.17,582.36" fill="none" stroke="#3a9a1a" stroke-width="1.2" stroke-dasharray="2.6,2"/>
<polyline points="55.40,374.00 62.21,396.60 69.02,400.90 75.83,389.00 82.63,397.40 89.44,399.40 96.25,395.90 103.06,399.20 109.87,391.30 116.68,409.60 123.49,391.80 130.29,400.00 137.10,379.80 143.91,389.00 150.72,381.40 157.53,390.50 164.34,401.20 171.15,392.80 177.96,397.90 184.76,405.00 191.57,398.90 198.38,398.90 205.19,401.60 212.00,393.20 218.81,395.40 225.62,392.80 232.42,388.20 239.23,386.00 249.45,401.60 263.06,401.20 276.68,447.80 290.30,451.20 303.92,433.80 320.94,450.50 348.17,485.98" fill="none" stroke="#a00a2a" stroke-width="1.3"/>
<polyline points="55.40,347.10 62.21,378.00 69.02,389.00 75.83,384.40 82.63,395.10 89.44,403.00 96.25,402.40 103.06,404.60 109.87,397.40 116.68,413.40 123.49,398.50 130.29,405.50 137.10,381.40 143.91,392.80 150.72,383.20 157.53,395.00 164.34,403.50 171.15,394.40 177.96,398.20 184.76,400.00 191.57,402.00 198.38,395.40 205.19,403.00 212.00,388.50 218.81,394.80 225.62,387.70 232.42,382.50 239.23,379.00 249.45,399.20 263.06,394.10 276.68,434.90 290.30,436.30 303.92,426.30 320.94,433.00 348.17,467.00" fill="none" stroke="#0000ff" stroke-width="1.3"/>
<polyline points="55.40,179.78 62.21,229.45 69.02,260.22 75.83,282.46 82.63,318.80 89.44,349.80 96.25,371.60 103.06,396.20 109.87,407.00 116.68,442.60 123.49,449.80 130.29,469.20 137.10,464.00 143.91,487.09 150.72,489.31 157.53,508.59 164.34,529.72 171.15,536.39 177.96,549.74 184.76,559.37 191.57,563.45 198.38,577.17 205.19,580.50 212.00,575.69 218.81,581.25 225.62,581.25 232.42,582.36 239.23,570.50 249.45,599.41 263.06,584.58 276.68,627.95 290.30,641.30 303.92,621.28 320.94,628.32 348.17,642.78" fill="none" stroke="#ff0000" stroke-width="1.2" stroke-dasharray="1.2,1.3"/>
<path d="M249.45 396.70V401.70M247.45 396.70h4.0M247.45 401.70h4.0" stroke="#0000ff" stroke-width="1.0" fill="none"/>
<path d="M249.45 399.10V404.10M247.45 399.10h4.0M247.45 404.10h4.0" stroke="#a00a2a" stroke-width="1.0" fill="none"/>
<path d="M249.45 462.20V467.20M247.45 462.20h4.0M247.45 467.20h4.0" stroke="#3a9a1a" stroke-width="1.0" fill="none"/>
<path d="M263.06 390.60V397.60M261.06 390.60h4.0M261.06 397.60h4.0" stroke="#0000ff" stroke-width="1.0" fill="none"/>
<path d="M263.06 397.70V404.70M261.06 397.70h4.0M261.06 404.70h4.0" stroke="#a00a2a" stroke-width="1.0" fill="none"/>
<path d="M263.06 465.20V472.20M261.06 465.20h4.0M261.06 472.20h4.0" stroke="#3a9a1a" stroke-width="1.0" fill="none"/>
<path d="M276.68 431.70V438.10M274.68 431.70h4.0M274.68 438.10h4.0" stroke="#0000ff" stroke-width="1.0" fill="none"/>
<path d="M276.68 444.60V451.00M274.68 444.60h4.0M274.68 451.00h4.0" stroke="#a00a2a" stroke-width="1.0" fill="none"/>
<path d="M290.30 432.30V440.30M288.30 432.30h4.0M288.30 440.30h4.0" stroke="#0000ff" stroke-width="1.0" fill="none"/>
<path d="M290.30 447.20V455.20M288.30 447.20h4.0M288.30 455.20h4.0" stroke="#a00a2a" stroke-width="1.0" fill="none"/>
<path d="M303.92 421.80V430.80M301.92 421.80h4.0M301.92 430.80h4.0" stroke="#0000ff" stroke-width="1.0" fill="none"/>
<path d="M303.92 429.30V438.30M301.92 429.30h4.0M301.92 438.30h4.0" stroke="#a00a2a" stroke-width="1.0" fill="none"/>
<path d="M320.94 428.40V437.60M318.94 428.40h4.0M318.94 437.60h4.0" stroke="#0000ff" stroke-width="1.0" fill="none"/>
<path d="M320.94 445.90V455.10M318.94 445.90h4.0M318.94 455.10h4.0" stroke="#a00a2a" stroke-width="1.0" fill="none"/>
<path d="M348.17 461.60V472.40M346.17 461.60h4.0M346.17 472.40h4.0" stroke="#0000ff" stroke-width="1.0" fill="none"/>
<rect x="52.80" y="318.00" width="5.2" height="5.2" fill="none" stroke="#3a9a1a" stroke-width="1.3"/><path d="M55.40 319.50V321.70" stroke="#3a9a1a" stroke-width="0.8"/>
<rect x="59.61" y="358.00" width="5.2" height="5.2" fill="none" stroke="#3a9a1a" stroke-width="1.3"/><path d="M62.21 359.50V361.70" stroke="#3a9a1a" stroke-width="0.8"/>
<rect x="66.42" y="367.10" width="5.2" height="5.2" fill="none" stroke="#3a9a1a" stroke-width="1.3"/><path d="M69.02 368.60V370.80" stroke="#3a9a1a" stroke-width="0.8"/>
<rect x="73.23" y="358.00" width="5.2" height="5.2" fill="none" stroke="#3a9a1a" stroke-width="1.3"/><path d="M75.83 359.50V361.70" stroke="#3a9a1a" stroke-width="0.8"/>
<rect x="80.03" y="368.20" width="5.2" height="5.2" fill="none" stroke="#3a9a1a" stroke-width="1.3"/><path d="M82.63 369.70V371.90" stroke="#3a9a1a" stroke-width="0.8"/>
<rect x="86.84" y="377.40" width="5.2" height="5.2" fill="none" stroke="#3a9a1a" stroke-width="1.3"/><path d="M89.44 378.90V381.10" stroke="#3a9a1a" stroke-width="0.8"/>
<rect x="93.65" y="375.20" width="5.2" height="5.2" fill="none" stroke="#3a9a1a" stroke-width="1.3"/><path d="M96.25 376.70V378.90" stroke="#3a9a1a" stroke-width="0.8"/>
<rect x="100.46" y="382.70" width="5.2" height="5.2" fill="none" stroke="#3a9a1a" stroke-width="1.3"/><path d="M103.06 384.20V386.40" stroke="#3a9a1a" stroke-width="0.8"/>
<rect x="107.27" y="378.20" width="5.2" height="5.2" fill="none" stroke="#3a9a1a" stroke-width="1.3"/><path d="M109.87 379.70V381.90" stroke="#3a9a1a" stroke-width="0.8"/>
<rect x="114.08" y="394.90" width="5.2" height="5.2" fill="none" stroke="#3a9a1a" stroke-width="1.3"/><path d="M116.68 396.40V398.60" stroke="#3a9a1a" stroke-width="0.8"/>
<rect x="120.89" y="383.60" width="5.2" height="5.2" fill="none" stroke="#3a9a1a" stroke-width="1.3"/><path d="M123.49 385.10V387.30" stroke="#3a9a1a" stroke-width="0.8"/>
<rect x="127.69" y="394.00" width="5.2" height="5.2" fill="none" stroke="#3a9a1a" stroke-width="1.3"/><path d="M130.29 395.50V397.70" stroke="#3a9a1a" stroke-width="0.8"/>
<rect x="134.50" y="375.10" width="5.2" height="5.2" fill="none" stroke="#3a9a1a" stroke-width="1.3"/><path d="M137.10 376.60V378.80" stroke="#3a9a1a" stroke-width="0.8"/>
<rect x="141.31" y="388.00" width="5.2" height="5.2" fill="none" stroke="#3a9a1a" stroke-width="1.3"/><path d="M143.91 389.50V391.70" stroke="#3a9a1a" stroke-width="0.8"/>
<rect x="148.12" y="380.40" width="5.2" height="5.2" fill="none" stroke="#3a9a1a" stroke-width="1.3"/><path d="M150.72 381.90V384.10" stroke="#3a9a1a" stroke-width="0.8"/>
<rect x="154.93" y="398.40" width="5.2" height="5.2" fill="none" stroke="#3a9a1a" stroke-width="1.3"/><path d="M157.53 399.90V402.10" stroke="#3a9a1a" stroke-width="0.8"/>
<rect x="161.74" y="410.40" width="5.2" height="5.2" fill="none" stroke="#3a9a1a" stroke-width="1.3"/><path d="M164.34 411.90V414.10" stroke="#3a9a1a" stroke-width="0.8"/>
<rect x="168.55" y="409.40" width="5.2" height="5.2" fill="none" stroke="#3a9a1a" stroke-width="1.3"/><path d="M171.15 410.90V413.10" stroke="#3a9a1a" stroke-width="0.8"/>
<rect x="175.36" y="416.90" width="5.2" height="5.2" fill="none" stroke="#3a9a1a" stroke-width="1.3"/><path d="M177.96 418.40V420.60" stroke="#3a9a1a" stroke-width="0.8"/>
<rect x="182.16" y="417.90" width="5.2" height="5.2" fill="none" stroke="#3a9a1a" stroke-width="1.3"/><path d="M184.76 419.40V421.60" stroke="#3a9a1a" stroke-width="0.8"/>
<rect x="188.97" y="422.50" width="5.2" height="5.2" fill="none" stroke="#3a9a1a" stroke-width="1.3"/><path d="M191.57 424.00V426.20" stroke="#3a9a1a" stroke-width="0.8"/>
<rect x="195.78" y="422.50" width="5.2" height="5.2" fill="none" stroke="#3a9a1a" stroke-width="1.3"/><path d="M198.38 424.00V426.20" stroke="#3a9a1a" stroke-width="0.8"/>
<rect x="202.59" y="439.20" width="5.2" height="5.2" fill="none" stroke="#3a9a1a" stroke-width="1.3"/><path d="M205.19 440.70V442.90" stroke="#3a9a1a" stroke-width="0.8"/>
<rect x="209.40" y="429.10" width="5.2" height="5.2" fill="none" stroke="#3a9a1a" stroke-width="1.3"/><path d="M212.00 430.60V432.80" stroke="#3a9a1a" stroke-width="0.8"/>
<rect x="216.21" y="434.10" width="5.2" height="5.2" fill="none" stroke="#3a9a1a" stroke-width="1.3"/><path d="M218.81 435.60V437.80" stroke="#3a9a1a" stroke-width="0.8"/>
<rect x="223.02" y="439.50" width="5.2" height="5.2" fill="none" stroke="#3a9a1a" stroke-width="1.3"/><path d="M225.62 441.00V443.20" stroke="#3a9a1a" stroke-width="0.8"/>
<rect x="229.82" y="435.60" width="5.2" height="5.2" fill="none" stroke="#3a9a1a" stroke-width="1.3"/><path d="M232.42 437.10V439.30" stroke="#3a9a1a" stroke-width="0.8"/>
<rect x="236.63" y="431.80" width="5.2" height="5.2" fill="none" stroke="#3a9a1a" stroke-width="1.3"/><path d="M239.23 433.30V435.50" stroke="#3a9a1a" stroke-width="0.8"/>
<rect x="246.85" y="462.10" width="5.2" height="5.2" fill="none" stroke="#3a9a1a" stroke-width="1.3"/><path d="M249.45 463.60V465.80" stroke="#3a9a1a" stroke-width="0.8"/>
<rect x="260.46" y="466.10" width="5.2" height="5.2" fill="none" stroke="#3a9a1a" stroke-width="1.3"/><path d="M263.06 467.60V469.80" stroke="#3a9a1a" stroke-width="0.8"/>
<polygon points="52.30,376.70 58.50,376.70 55.40,371.30" fill="none" stroke="#a00a2a" stroke-width="1.2"/>
<polygon points="59.11,399.30 65.31,399.30 62.21,393.90" fill="none" stroke="#a00a2a" stroke-width="1.2"/>
<polygon points="65.92,403.60 72.12,403.60 69.02,398.20" fill="none" stroke="#a00a2a" stroke-width="1.2"/>
<polygon points="72.73,391.70 78.93,391.70 75.83,386.30" fill="none" stroke="#a00a2a" stroke-width="1.2"/>
<polygon points="79.53,400.10 85.73,400.10 82.63,394.70" fill="none" stroke="#a00a2a" stroke-width="1.2"/>
<polygon points="86.34,402.10 92.54,402.10 89.44,396.70" fill="none" stroke="#a00a2a" stroke-width="1.2"/>
<polygon points="93.15,398.60 99.35,398.60 96.25,393.20" fill="none" stroke="#a00a2a" stroke-width="1.2"/>
<polygon points="99.96,401.90 106.16,401.90 103.06,396.50" fill="none" stroke="#a00a2a" stroke-width="1.2"/>
<polygon points="106.77,394.00 112.97,394.00 109.87,388.60" fill="none" stroke="#a00a2a" stroke-width="1.2"/>
<polygon points="113.58,412.30 119.78,412.30 116.68,406.90" fill="none" stroke="#a00a2a" stroke-width="1.2"/>
<polygon points="120.39,394.50 126.59,394.50 123.49,389.10" fill="none" stroke="#a00a2a" stroke-width="1.2"/>
<polygon points="127.19,402.70 133.39,402.70 130.29,397.30" fill="none" stroke="#a00a2a" stroke-width="1.2"/>
<polygon points="134.00,382.50 140.20,382.50 137.10,377.10" fill="none" stroke="#a00a2a" stroke-width="1.2"/>
<polygon points="140.81,391.70 147.01,391.70 143.91,386.30" fill="none" stroke="#a00a2a" stroke-width="1.2"/>
<polygon points="147.62,384.10 153.82,384.10 150.72,378.70" fill="none" stroke="#a00a2a" stroke-width="1.2"/>
<polygon points="154.43,393.20 160.63,393.20 157.53,387.80" fill="none" stroke="#a00a2a" stroke-width="1.2"/>
<polygon points="161.24,403.90 167.44,403.90 164.34,398.50" fill="none" stroke="#a00a2a" stroke-width="1.2"/>
<polygon points="168.05,395.50 174.25,395.50 171.15,390.10" fill="none" stroke="#a00a2a" stroke-width="1.2"/>
<polygon points="174.86,400.60 181.06,400.60 177.96,395.20" fill="none" stroke="#a00a2a" stroke-width="1.2"/>
<polygon points="181.66,407.70 187.86,407.70 184.76,402.30" fill="none" stroke="#a00a2a" stroke-width="1.2"/>
<polygon points="188.47,401.60 194.67,401.60 191.57,396.20" fill="none" stroke="#a00a2a" stroke-width="1.2"/>
<polygon points="195.28,401.60 201.48,401.60 198.38,396.20" fill="none" stroke="#a00a2a" stroke-width="1.2"/>
<polygon points="202.09,404.30 208.29,404.30 205.19,398.90" fill="none" stroke="#a00a2a" stroke-width="1.2"/>
<polygon points="208.90,395.90 215.10,395.90 212.00,390.50" fill="none" stroke="#a00a2a" stroke-width="1.2"/>
<polygon points="215.71,398.10 221.91,398.10 218.81,392.70" fill="none" stroke="#a00a2a" stroke-width="1.2"/>
<polygon points="222.52,395.50 228.72,395.50 225.62,390.10" fill="none" stroke="#a00a2a" stroke-width="1.2"/>
<polygon points="229.32,390.90 235.52,390.90 232.42,385.50" fill="none" stroke="#a00a2a" stroke-width="1.2"/>
<polygon points="236.13,388.70 242.33,388.70 239.23,383.30" fill="none" stroke="#a00a2a" stroke-width="1.2"/>
<polygon points="246.35,404.30 252.55,404.30 249.45,398.90" fill="none" stroke="#a00a2a" stroke-width="1.2"/>
<polygon points="259.96,403.90 266.16,403.90 263.06,398.50" fill="none" stroke="#a00a2a" stroke-width="1.2"/>
<polygon points="273.58,450.50 279.78,450.50 276.68,445.10" fill="none" stroke="#a00a2a" stroke-width="1.2"/>
<polygon points="287.20,453.90 293.40,453.90 290.30,448.50" fill="none" stroke="#a00a2a" stroke-width="1.2"/>
<polygon points="300.82,436.50 307.02,436.50 303.92,431.10" fill="none" stroke="#a00a2a" stroke-width="1.2"/>
<polygon points="317.84,453.20 324.04,453.20 320.94,447.80" fill="none" stroke="#a00a2a" stroke-width="1.2"/>
<polygon points="52.15,349.93 58.65,349.93 55.40,344.27" fill="#0000ff"/>
<polygon points="58.96,380.83 65.46,380.83 62.21,375.17" fill="#0000ff"/>
<polygon points="65.77,391.83 72.27,391.83 69.02,386.17" fill="#0000ff"/>
<polygon points="72.58,387.23 79.08,387.23 75.83,381.57" fill="#0000ff"/>
<polygon points="79.38,397.93 85.88,397.93 82.63,392.27" fill="#0000ff"/>
<polygon points="86.19,405.83 92.69,405.83 89.44,400.17" fill="#0000ff"/>
<polygon points="93.00,405.23 99.50,405.23 96.25,399.57" fill="#0000ff"/>
<polygon points="99.81,407.43 106.31,407.43 103.06,401.77" fill="#0000ff"/>
<polygon points="106.62,400.23 113.12,400.23 109.87,394.57" fill="#0000ff"/>
<polygon points="113.43,416.23 119.93,416.23 116.68,410.57" fill="#0000ff"/>
<polygon points="120.24,401.33 126.74,401.33 123.49,395.67" fill="#0000ff"/>
<polygon points="127.04,408.33 133.54,408.33 130.29,402.67" fill="#0000ff"/>
<polygon points="133.85,384.23 140.35,384.23 137.10,378.57" fill="#0000ff"/>
<polygon points="140.66,395.63 147.16,395.63 143.91,389.97" fill="#0000ff"/>
<polygon points="147.47,386.03 153.97,386.03 150.72,380.37" fill="#0000ff"/>
<polygon points="154.28,397.83 160.78,397.83 157.53,392.17" fill="#0000ff"/>
<polygon points="161.09,406.33 167.59,406.33 164.34,400.67" fill="#0000ff"/>
<polygon points="167.90,397.23 174.40,397.23 171.15,391.57" fill="#0000ff"/>
<polygon points="174.71,401.03 181.21,401.03 177.96,395.37" fill="#0000ff"/>
<polygon points="181.51,402.83 188.01,402.83 184.76,397.17" fill="#0000ff"/>
<polygon points="188.32,404.83 194.82,404.83 191.57,399.17" fill="#0000ff"/>
<polygon points="195.13,398.23 201.63,398.23 198.38,392.57" fill="#0000ff"/>
<polygon points="201.94,405.83 208.44,405.83 205.19,400.17" fill="#0000ff"/>
<polygon points="208.75,391.33 215.25,391.33 212.00,385.67" fill="#0000ff"/>
<polygon points="215.56,397.63 222.06,397.63 218.81,391.97" fill="#0000ff"/>
<polygon points="222.37,390.53 228.87,390.53 225.62,384.87" fill="#0000ff"/>
<polygon points="229.17,385.33 235.67,385.33 232.42,379.67" fill="#0000ff"/>
<polygon points="235.98,381.83 242.48,381.83 239.23,376.17" fill="#0000ff"/>
<polygon points="246.20,402.03 252.70,402.03 249.45,396.37" fill="#0000ff"/>
<polygon points="259.81,396.93 266.31,396.93 263.06,391.27" fill="#0000ff"/>
<polygon points="273.43,437.73 279.93,437.73 276.68,432.07" fill="#0000ff"/>
<polygon points="287.05,439.13 293.55,439.13 290.30,433.47" fill="#0000ff"/>
<polygon points="300.67,429.13 307.17,429.13 303.92,423.47" fill="#0000ff"/>
<polygon points="317.69,435.83 324.19,435.83 320.94,430.17" fill="#0000ff"/>
<polygon points="344.92,469.83 351.42,469.83 348.17,464.17" fill="#0000ff"/>
<polygon points="82.63,315.50 84.88,318.80 82.63,322.10 80.38,318.80" fill="#ff0000"/>
<polygon points="89.44,346.50 91.69,349.80 89.44,353.10 87.19,349.80" fill="#ff0000"/>
<polygon points="96.25,368.30 98.50,371.60 96.25,374.90 94.00,371.60" fill="#ff0000"/>
<polygon points="103.06,392.90 105.31,396.20 103.06,399.50 100.81,396.20" fill="#ff0000"/>
<polygon points="109.87,403.70 112.12,407.00 109.87,410.30 107.62,407.00" fill="#ff0000"/>
<polygon points="116.68,439.30 118.93,442.60 116.68,445.90 114.43,442.60" fill="#ff0000"/>
<polygon points="123.49,446.50 125.74,449.80 123.49,453.10 121.24,449.80" fill="#ff0000"/>
<polygon points="130.29,465.90 132.54,469.20 130.29,472.50 128.04,469.20" fill="#ff0000"/>
<polygon points="137.10,460.70 139.35,464.00 137.10,467.30 134.85,464.00" fill="#ff0000"/>
</g>
<rect x="45.6" y="17.45" width="325.5" height="299.75" fill="none" stroke="#000" stroke-width="1.4"/>
<rect x="45.6" y="317.2" width="325.5" height="160.55" fill="none" stroke="#000" stroke-width="1.4"/>
<g font-family="Liberation Sans, sans-serif">
<text x="51.2" y="14" font-size="12.35" text-anchor="start" fill="#000" >13000 GeV pp</text>
<text x="365.2" y="13.8" font-size="12" text-anchor="end" fill="#000" >Z+Jet</text>
<text x="70.0" y="42.6" font-size="12" text-anchor="start" fill="#000" >Transverse region, 120 &lt;</text>
<text x="207.7" y="42.6" font-size="12" text-anchor="start" fill="#000" >p</text>
<text x="210.7" y="36.0" font-size="7.3" text-anchor="start" fill="#000" >Z</text>
<text x="211.2" y="48.6" font-size="7.0" text-anchor="start" fill="#000" >T</text>
<text x="216.6" y="42.6" font-size="12" text-anchor="start" fill="#000" xml:space="preserve"> &lt; 200 [GeV], high thrust</text>
<text x="40.2" y="56.90" font-size="11.3" text-anchor="end" fill="#000" >10</text>
<text x="40.2" y="111.25" font-size="11.3" text-anchor="end" fill="#000" >1</text>
<text x="21.80" y="167.10" font-size="11.5" textLength="10.9" lengthAdjust="spacingAndGlyphs">10</text>
<path d="M33.60 160.00h2.8" stroke="#000" stroke-width="0.8"/>
<text x="36.40" y="161.50" font-size="8.6">1</text>
<text x="19.60" y="221.45" font-size="11.5" textLength="10.9" lengthAdjust="spacingAndGlyphs">10</text>
<path d="M31.40 214.35h2.8" stroke="#000" stroke-width="0.8"/>
<text x="34.20" y="215.85" font-size="8.6">2</text>
<text x="19.60" y="275.80" font-size="11.5" textLength="10.9" lengthAdjust="spacingAndGlyphs">10</text>
<path d="M31.40 268.70h2.8" stroke="#000" stroke-width="0.8"/>
<text x="34.20" y="270.20" font-size="8.6">3</text>
<text x="38.4" y="340.70" font-size="11.5" text-anchor="end" fill="#000" >2</text>
<text x="373.6" y="341.30" font-size="11.5" text-anchor="start" fill="#000" >2</text>
<text x="38.4" y="401.35" font-size="11.5" text-anchor="end" fill="#000" >1</text>
<text x="373.6" y="401.95" font-size="11.5" text-anchor="start" fill="#000" >1</text>
<text x="38.4" y="462.00" font-size="11.5" text-anchor="end" fill="#000" >0.5</text>
<text x="373.6" y="462.60" font-size="11.5" text-anchor="start" fill="#000" >0.5</text>
<text x="55.40" y="489" font-size="11" text-anchor="middle" fill="#000" >0</text>
<text x="126.70" y="489" font-size="11" text-anchor="middle" fill="#000" >1</text>
<text x="198.00" y="489" font-size="11" text-anchor="middle" fill="#000" >2</text>
<text x="269.30" y="489" font-size="11" text-anchor="middle" fill="#000" >3</text>
<text x="340.60" y="489" font-size="11" text-anchor="middle" fill="#000" >4</text>
<text x="318.3" y="502.5" font-size="12.2" textLength="50" lengthAdjust="spacingAndGlyphs">N<tspan font-size="7.5" dy="3">ch</tspan><tspan dy="-3">/dη dφ</tspan></text>
<text transform="translate(14.7,125.3) rotate(-90)" font-size="11" textLength="104" lengthAdjust="spacingAndGlyphs">1/N<tspan font-size="7.5" dy="3">ev</tspan><tspan dy="-3"> dN</tspan><tspan font-size="7.5" dy="3">ev</tspan><tspan dy="-3">/dN</tspan><tspan font-size="7.5" dy="3">ch</tspan><tspan dy="-3">/dη dφ</tspan></text>
<text transform="translate(19,396.6) rotate(-90)" font-size="9.5" text-anchor="middle">Ratio to ATLAS</text>
<text transform="translate(379.6,126.3) rotate(-90)" font-size="9.4" fill="#707070">Rivet 4.1.0, ≥ 3.6M events</text>
<text transform="translate(381.0,312.6) rotate(-90)" font-size="9.4" fill="#707070">mcplots.cern.ch [arXiv:2401.10621]</text>
<rect x="73.80" y="221.50" width="5.4" height="5.4" fill="#000"/>
<text x="93.9" y="227.0" font-size="9.4" text-anchor="start" fill="#000" >ATLAS</text>
<line x1="64.2" y1="237.0" x2="88.4" y2="237.0" stroke="#3a9a1a" stroke-width="1.0" stroke-dasharray="2.4,2"/>
<rect x="73.70" y="234.20" width="5.6" height="5.6" fill="none" stroke="#3a9a1a" stroke-width="1.3"/><path d="M76.50 235.90V238.10" stroke="#3a9a1a" stroke-width="0.8"/>
<text x="93.9" y="240.1" font-size="9.4" text-anchor="start" fill="#000" >Herwig 7.2.1 default</text>
<line x1="64.2" y1="250.0" x2="88.4" y2="250.0" stroke="#a00a2a" stroke-width="1.0"/>
<polygon points="73.40,252.70 79.60,252.70 76.50,247.30" fill="none" stroke="#a00a2a" stroke-width="1.2"/>
<text x="93.9" y="253.1" font-size="9.4" text-anchor="start" fill="#000" >Pythia 6.428 370</text>
<line x1="64.2" y1="263.0" x2="88.4" y2="263.0" stroke="#0000ff" stroke-width="1.0"/>
<polygon points="73.50,265.61 79.50,265.61 76.50,260.39" fill="#0000ff"/>
<text x="93.9" y="266.1" font-size="9.4" text-anchor="start" fill="#000" >Pythia 8.315 default</text>
<line x1="64.2" y1="276.0" x2="88.4" y2="276.0" stroke="#ff0000" stroke-width="1.0" stroke-dasharray="1.2,1.3"/>
<polygon points="76.50,272.70 78.75,276.00 76.50,279.30 74.25,276.00" fill="#ff0000"/>
<text x="93.9" y="279.1" font-size="9.4" text-anchor="start" fill="#000" >Sherpa 2.2.9 default</text>
<text x="208" y="301" font-size="8" text-anchor="middle" fill="#999999" >(ATLAS_2019_I1736531)</text>
</g></svg></body></html>
